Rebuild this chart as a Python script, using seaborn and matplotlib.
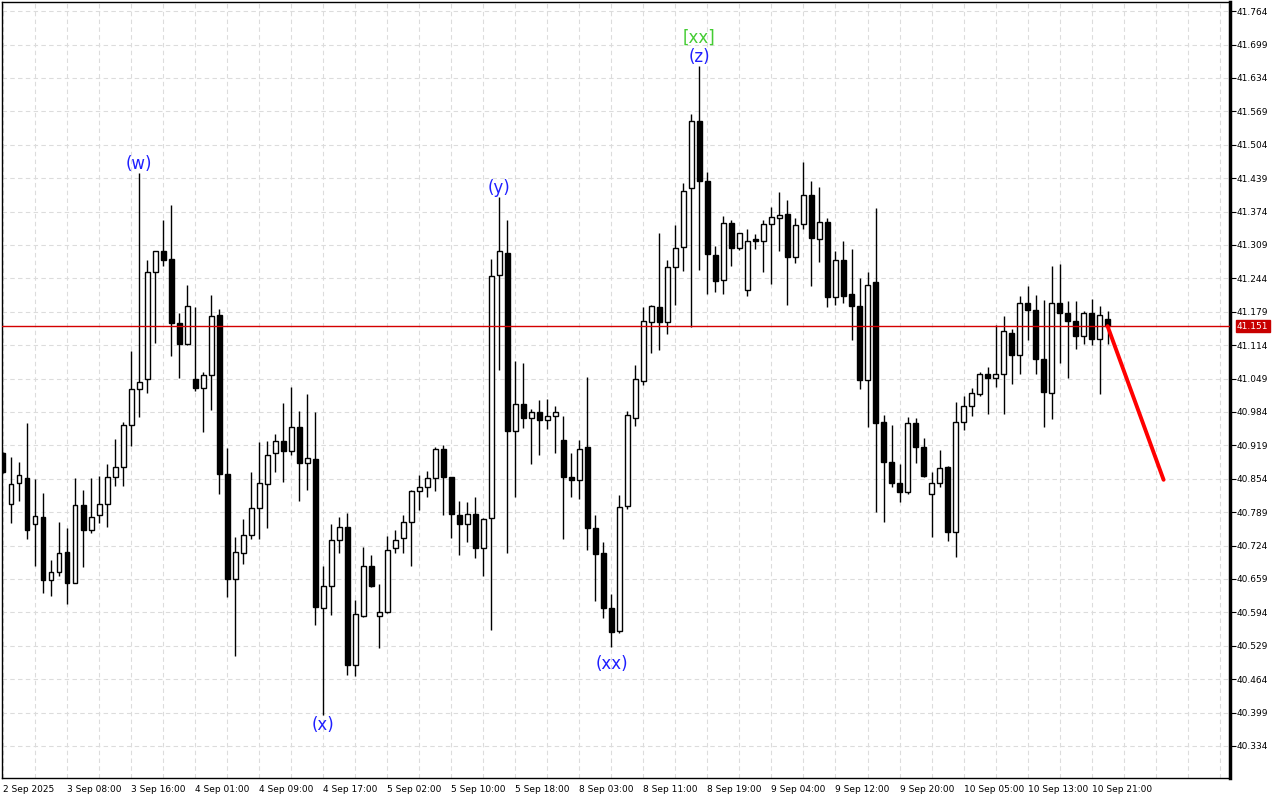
import numpy as np
import pandas as pd
import matplotlib
matplotlib.use("Agg")
import matplotlib.pyplot as plt
import seaborn as sns

# H1 candles (open / high / low / close)
opens = [40.904, 40.804, 40.845, 40.855, 40.765, 40.780, 40.656, 40.672, 40.711, 40.652,
         40.802, 40.754, 40.783, 40.804, 40.857, 40.876, 40.958, 41.028, 41.048, 41.256,
         41.297, 41.281, 41.157, 41.116, 41.048, 41.031, 41.055, 41.173, 40.863, 40.658,
         40.709, 40.744, 40.798, 40.843, 40.904, 40.927, 40.909, 40.955, 40.885, 40.892,
         40.602, 40.645, 40.735, 40.760, 40.492, 40.586, 40.684, 40.586, 40.594, 40.719,
         40.738, 40.769, 40.830, 40.837, 40.855, 40.911, 40.857, 40.783, 40.765, 40.785,
         40.719, 40.777, 41.250, 41.293, 40.946, 40.999, 40.973, 40.983, 40.968, 40.976,
         40.930, 40.858, 40.852, 40.915, 40.758, 40.710, 40.602, 40.558, 40.801, 40.973,
         41.045, 41.159, 41.189, 41.159, 41.267, 41.306, 41.420, 41.551, 41.433, 41.289,
         41.240, 41.351, 41.303, 41.221, 41.320, 41.316, 41.349, 41.361, 41.369, 41.285,
         41.349, 41.406, 41.320, 41.353, 41.207, 41.279, 41.213, 41.190, 41.046, 41.236,
         40.964, 40.886, 40.845, 40.828, 40.962, 40.915, 40.824, 40.845, 40.876, 40.751,
         40.964, 40.995, 41.018, 41.057, 41.051, 41.057, 41.138, 41.094, 41.197, 41.182,
         41.087, 41.020, 41.196, 41.176, 41.162, 41.131, 41.176, 41.126, 41.165]
highs = [40.906, 40.896, 40.886, 40.962, 40.854, 40.827, 40.696, 40.770, 40.758, 40.855,
         40.833, 40.855, 40.860, 40.883, 40.931, 40.965, 41.103, 41.450, 41.280, 41.297,
         41.358, 41.387, 41.176, 41.231, 41.189, 41.062, 41.212, 41.184, 40.913, 40.741,
         40.776, 40.867, 40.925, 40.927, 40.941, 41.001, 41.033, 40.986, 41.019, 40.984,
         40.685, 40.766, 40.780, 40.787, 40.618, 40.721, 40.706, 40.649, 40.742, 40.754,
         40.783, 40.832, 40.861, 40.869, 40.916, 40.919, 40.858, 40.811, 40.809, 40.818,
         40.777, 41.282, 41.403, 41.358, 41.083, 41.079, 40.989, 41.007, 41.010, 40.996,
         40.976, 40.904, 40.930, 41.053, 40.784, 40.731, 40.629, 40.823, 40.985, 41.076,
         41.188, 41.192, 41.332, 41.279, 41.347, 41.429, 41.564, 41.657, 41.452, 41.307,
         41.365, 41.358, 41.332, 41.341, 41.330, 41.358, 41.383, 41.412, 41.397, 41.361,
         41.471, 41.433, 41.421, 41.361, 41.297, 41.316, 41.301, 41.244, 41.256, 41.380,
         40.979, 40.958, 40.882, 40.974, 40.972, 40.933, 40.867, 40.910, 40.879, 41.003,
         41.015, 41.030, 41.062, 41.072, 41.153, 41.171, 41.145, 41.210, 41.229, 41.212,
         41.202, 41.268, 41.272, 41.200, 41.200, 41.181, 41.203, 41.190, 41.181]
lows = [40.865, 40.768, 40.811, 40.737, 40.684, 40.632, 40.626, 40.665, 40.610, 40.651,
        40.683, 40.748, 40.768, 40.761, 40.839, 40.839, 40.918, 40.975, 41.021, 41.118,
        41.269, 41.092, 41.051, 41.115, 41.025, 40.945, 40.988, 40.824, 40.624, 40.510,
        40.689, 40.737, 40.737, 40.759, 40.868, 40.848, 40.900, 40.811, 40.833, 40.570,
        40.394, 40.589, 40.709, 40.473, 40.471, 40.584, 40.644, 40.525, 40.592, 40.709,
        40.709, 40.685, 40.794, 40.819, 40.831, 40.783, 40.738, 40.706, 40.731, 40.700,
        40.665, 40.560, 41.066, 40.710, 40.819, 40.953, 40.883, 40.900, 40.951, 40.904,
        40.737, 40.818, 40.815, 40.716, 40.617, 40.583, 40.527, 40.553, 40.795, 40.957,
        41.036, 41.098, 41.105, 41.136, 41.193, 41.259, 41.149, 41.260, 41.214, 41.218,
        41.213, 41.269, 41.299, 41.209, 41.302, 41.256, 41.234, 41.298, 41.192, 41.273,
        41.341, 41.229, 41.275, 41.188, 41.192, 41.196, 41.125, 41.028, 40.954, 40.789,
        40.769, 40.837, 40.808, 40.824, 40.884, 40.857, 40.741, 40.837, 40.733, 40.701,
        40.948, 40.977, 41.016, 40.981, 41.033, 40.981, 41.039, 41.058, 41.125, 41.057,
        40.954, 40.970, 41.080, 41.051, 41.106, 41.116, 41.114, 41.018, 41.116]
closes = [40.868, 40.843, 40.861, 40.754, 40.781, 40.656, 40.672, 40.709, 40.652, 40.802,
          40.754, 40.779, 40.804, 40.857, 40.876, 40.958, 41.028, 41.042, 41.256, 41.297,
          41.279, 41.157, 41.116, 41.190, 41.031, 41.055, 41.171, 40.863, 40.658, 40.711,
          40.744, 40.798, 40.845, 40.900, 40.927, 40.909, 40.955, 40.885, 40.894, 40.605,
          40.645, 40.735, 40.760, 40.492, 40.590, 40.684, 40.646, 40.594, 40.715, 40.735,
          40.769, 40.830, 40.837, 40.855, 40.911, 40.858, 40.785, 40.765, 40.785, 40.719,
          40.775, 41.249, 41.297, 40.946, 40.999, 40.973, 40.983, 40.968, 40.977, 40.983,
          40.858, 40.852, 40.911, 40.758, 40.708, 40.602, 40.555, 40.799, 40.979, 41.048,
          41.161, 41.191, 41.159, 41.267, 41.304, 41.415, 41.551, 41.433, 41.291, 41.238,
          41.351, 41.303, 41.332, 41.316, 41.316, 41.349, 41.363, 41.367, 41.285, 41.347,
          41.406, 41.322, 41.353, 41.207, 41.279, 41.209, 41.190, 41.046, 41.232, 40.963,
          40.886, 40.845, 40.829, 40.962, 40.915, 40.860, 40.845, 40.874, 40.751, 40.964,
          40.995, 41.020, 41.057, 41.051, 41.057, 41.142, 41.094, 41.196, 41.182, 41.088,
          41.022, 41.196, 41.176, 41.162, 41.131, 41.176, 41.126, 41.172, 41.151]

time_labels = ["2 Sep 2025", "3 Sep 08:00", "3 Sep 16:00", "4 Sep 01:00", "4 Sep 09:00",
               "4 Sep 17:00", "5 Sep 02:00", "5 Sep 10:00", "5 Sep 18:00", "8 Sep 03:00",
               "8 Sep 11:00", "8 Sep 19:00", "9 Sep 04:00", "9 Sep 12:00", "9 Sep 20:00",
               "10 Sep 05:00", "10 Sep 13:00", "10 Sep 21:00"]
price_ticks = [40.334, 40.399, 40.464, 40.529, 40.594, 40.659, 40.724, 40.789, 40.854,
               40.919, 40.984, 41.049, 41.114, 41.179, 41.244, 41.309, 41.374, 41.439,
               41.504, 41.569, 41.634, 41.699, 41.764]
last_price = 41.151

# forecast line drawn from the last bar
proj_bars = [138, 145]
proj_prices = [41.151, 40.852]

# wave labels
wave_names = ["(w)", "(x)", "(y)", "(xx)", "(z)"]
wave_bars = [17, 40, 62, 76, 87]
wave_above = [True, False, True, False, True]

df = pd.DataFrame({"open": opens, "high": highs, "low": lows, "close": closes})
df["bar"] = np.arange(len(df))
up = df["close"] >= df["open"]
body_lo = np.minimum(df["open"], df["close"])
body_h = np.maximum((df["close"] - df["open"]).abs(), 0.002)

sns.set_style("white")
plt.rcParams["font.family"] = ["DejaVu Sans"]

fig = plt.figure(figsize=(12.8, 8), dpi=100)
ax = fig.add_axes([2 / 1280, 22 / 800, 1228 / 1280, 776 / 800])

# grid
ax.set_xticks(np.arange(0, 154, 4), minor=True)
ax.grid(which="both", axis="x", color="#dcdcdc", ls=(0, (4, 3)), lw=0.8)
ax.grid(which="major", axis="y", color="#dcdcdc", ls=(0, (4, 3)), lw=0.8)
ax.set_axisbelow(True)

# candles
ax.vlines(df["bar"], df["low"], df["high"], color="black", lw=1, zorder=3)
ax.bar(df["bar"][up], body_h[up], bottom=body_lo[up], width=0.55,
       color="white", edgecolor="black", lw=1, zorder=4)
ax.bar(df["bar"][~up], body_h[~up], bottom=body_lo[~up], width=0.55,
       color="black", edgecolor="black", lw=1, zorder=4)

# bid line + forecast
ax.axhline(last_price, color="#d40000", lw=1, zorder=5)
sns.lineplot(x=proj_bars, y=proj_prices, color="#ff0000", lw=2.8, ax=ax, zorder=6)

for name, b, above in zip(wave_names, wave_bars, wave_above):
    if above:
        ax.annotate(name, (b, highs[b]), xytext=(0, 0), textcoords="offset points",
                    ha="center", va="bottom", color="#1f1fff", fontsize=12)
    else:
        ax.annotate(name, (b, lows[b]), xytext=(0, -1 if b != 76 else -6),
                    textcoords="offset points", ha="center", va="top",
                    color="#1f1fff", fontsize=12)
ax.annotate("[xx]", (87, highs[87]), xytext=(0, 14), textcoords="offset points",
            ha="center", va="bottom", color="#44cc33", fontsize=12)

ax.set_xlim(-0.16, 153.3)
ax.set_ylim(40.2716, 41.7819)

ax.yaxis.tick_right()
ax.set_yticks(price_ticks, labels=[f"{p:.3f}" for p in price_ticks])
ax.set_xticks(np.arange(0, 8 * len(time_labels), 8), labels=time_labels, ha="left")
ax.tick_params(axis="y", length=4, width=0.8, pad=1, labelsize=6.5, colors="black")
ax.tick_params(axis="x", length=4, width=0.8, pad=1, labelsize=6.5, colors="black")
ax.tick_params(which="minor", length=0)
ax.set_xlabel("")
ax.set_ylabel("")

ax.annotate(f"{last_price:.3f}", (1, last_price), xycoords=("axes fraction", "data"),
            xytext=(5, 0), textcoords="offset points", ha="left", va="center",
            fontsize=6.5, color="white",
            bbox=dict(boxstyle="square,pad=0.15", fc="#c80000", ec="#c80000"))

for s in ax.spines.values():
    s.set_visible(True)
    s.set_color("black")
    s.set_linewidth(1)
ax.spines["right"].set_linewidth(2.5)

fig.savefig("out.png", dpi=100)
plt.close(fig)
